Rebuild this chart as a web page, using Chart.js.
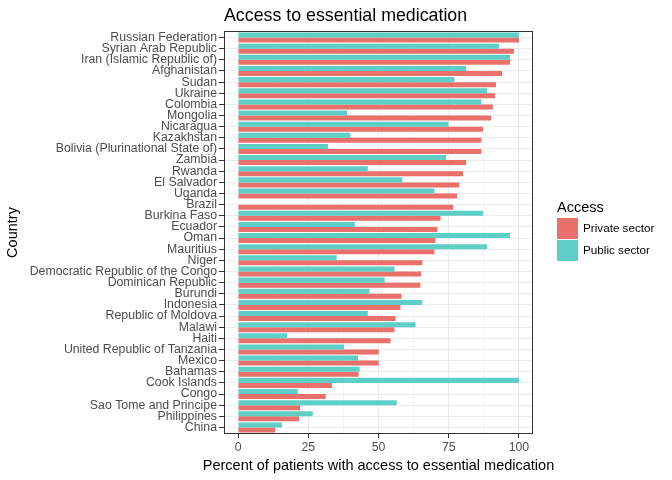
<!DOCTYPE html>
<html>
<head>
<meta charset="utf-8">
<script src="https://cdn.jsdelivr.net/npm/chart.js@4"></script>
<style>
  body { margin: 0; background: #fff; }
  #wrap { width: 672px; height: 480px; }
</style>
</head>
<body>
<div id="wrap"><canvas id="chart"></canvas></div>
<script>
const countries = ['Russian Federation', 'Syrian Arab Republic', 'Iran (Islamic Republic of)', 'Afghanistan',
  'Sudan', 'Ukraine', 'Colombia', 'Mongolia', 'Nicaragua', 'Kazakhstan', 'Bolivia (Plurinational State of)',
  'Zambia', 'Rwanda', 'El Salvador', 'Uganda', 'Brazil', 'Burkina Faso', 'Ecuador', 'Oman', 'Mauritius',
  'Niger', 'Democratic Republic of the Congo', 'Dominican Republic', 'Burundi', 'Indonesia',
  'Republic of Moldova', 'Malawi', 'Haiti', 'United Republic of Tanzania', 'Mexico', 'Bahamas',
  'Cook Islands', 'Congo', 'Sao Tome and Principe', 'Philippines', 'China'];
const privateSector = [100, 98.2, 96.8, 94.0, 91.8, 91.5, 90.7, 90.1, 87.2, 86.6, 86.6,
  81.2, 80.1, 78.8, 78.0, 76.6, 72.1, 71.0, 70.2, 69.9,
  65.6, 65.2, 64.9, 58.2, 57.8, 56.1, 55.7, 54.3, 50.1, 50.1, 42.9,
  33.4, 31.2, 22.1, 21.7, 13.2];
const publicSector = [100, 92.9, 96.8, 81.2, 77.0, 88.7, 86.6, 38.8, 74.9, 40.0, 32.0,
  74.1, 46.2, 58.5, 69.9, null, 87.2, 41.6, 96.8, 88.7,
  35.1, 55.7, 52.2, 46.8, 65.6, 46.2, 63.2, 17.4, 37.7, 42.7, 43.3,
  100, 21.3, 56.5, 26.6, 15.6];
const xTicks = [0, 25, 50, 75, 100];
const xGrid = [0, 12.5, 25, 37.5, 50, 62.5, 75, 87.5, 100];

const privateColor = '#E9706B';
const publicColor = '#5ECFC6';
const font = 'Liberation Sans, Arial, sans-serif';

// panel border, title, x axis title and legend drawn like the ggplot original
const decorations = {
  id: 'decorations',
  afterDraw(chart) {
    const ctx = chart.ctx;
    const a = chart.chartArea;
    ctx.save();
    ctx.strokeStyle = '#333333';
    ctx.lineWidth = 1;
    // ggplot pads discrete axes a little more than chart.js does
    ctx.strokeRect(a.left + 0.5, a.top - 0.5, a.right - a.left - 1, a.bottom - a.top + 1);

    ctx.fillStyle = '#000';
    ctx.textBaseline = 'middle';
    ctx.textAlign = 'left';
    ctx.font = '17.8px ' + font;
    ctx.fillText('Access to essential medication', a.left, 16);

    ctx.textAlign = 'center';
    ctx.font = '14.5px ' + font;
    ctx.fillText('Percent of patients with access to essential medication', (a.left + a.right) / 2, 466);

    const lx = 557, ly = 218;
    ctx.textAlign = 'left';
    ctx.fillText('Access', lx, 208);
    const items = [chart.data.datasets[1], chart.data.datasets[0]];
    items.forEach((ds, i) => {
      const y = ly + i * 22;
      ctx.fillStyle = ds.backgroundColor;
      ctx.fillRect(lx, y, 21, 21);
      ctx.fillStyle = '#000';
      ctx.font = '11.7px ' + font;
      ctx.fillText(ds.label, lx + 26, y + 11);
    });
    ctx.restore();
  }
};

new Chart(document.getElementById('chart'), {
  type: 'bar',
  data: {
    labels: countries,
    datasets: [
      { label: 'Public sector', data: publicSector, backgroundColor: publicColor },
      { label: 'Private sector', data: privateSector, backgroundColor: privateColor }
    ]
  },
  options: {
    indexAxis: 'y',
    responsive: true,
    maintainAspectRatio: false,
    animation: false,
    categoryPercentage: 0.9,
    barPercentage: 1.0,
    layout: { padding: { top: 32, right: 139, left: 0, bottom: 0 } },
    plugins: {
      legend: { display: false },
      tooltip: { enabled: false }
    },
    scales: {
      x: {
        type: 'linear',
        min: -5,
        max: 105,
        afterBuildTicks: (scale) => { scale.ticks = xGrid.map(v => ({ value: v })); },
        afterFit: (scale) => { scale.height = 47; },
        border: { display: false },
        grid: {
          color: '#EBEBEB',
          lineWidth: (c) => (c.tick && c.tick.value % 25 === 0 ? 1 : 0.6),
          tickLength: 5,
          tickColor: (c) => (c.tick && xTicks.includes(c.tick.value) ? '#333333' : 'rgba(0,0,0,0)')
        },
        ticks: {
          color: '#4D4D4D',
          font: { family: font, size: 12.3 },
          padding: 2,
          maxRotation: 0,
          callback: (v) => (xTicks.includes(v) ? String(v) : '')
        },
        title: { display: false }
      },
      y: {
        type: 'category',
        afterFit: (scale) => { scale.width = 224; },
        border: { display: false },
        grid: {
          offset: false,
          color: '#EBEBEB',
          tickLength: 5,
          tickColor: '#333333'
        },
        ticks: {
          color: '#4D4D4D',
          font: { family: font, size: 12.3 },
          padding: 2,
          autoSkip: false
        },
        title: {
          display: true,
          text: 'Country',
          color: '#000',
          font: { family: font, size: 14.5 },
          padding: { top: 4, bottom: 2 }
        }
      }
    }
  },
  plugins: [decorations]
});
</script>
</body>
</html>
